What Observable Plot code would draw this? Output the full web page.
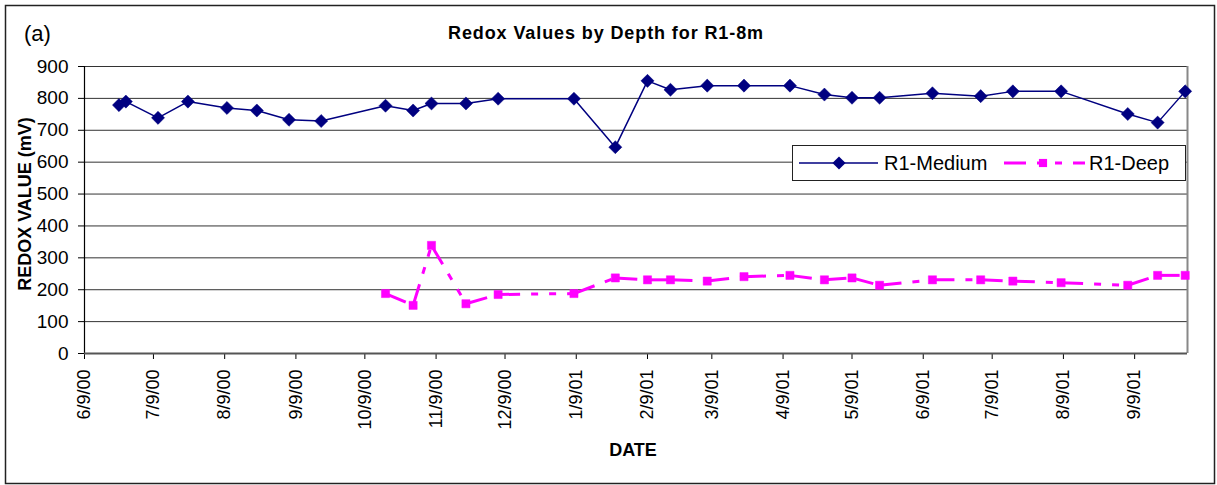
<!DOCTYPE html>
<html><head><meta charset="utf-8">
<script src="https://cdn.jsdelivr.net/npm/d3@7"></script>
<script src="https://cdn.jsdelivr.net/npm/@observablehq/plot@0.6"></script>
<style>
body{margin:0;background:#fff;font-family:"Liberation Sans",Arial,sans-serif}
#chart{position:relative;width:1217px;height:485px}
</style>
</head><body><div id="chart"></div>
<script>
// ---- data ----
const mediumDates = ["2000-06-24","2000-06-27","2000-07-11","2000-07-24","2000-08-10","2000-08-23","2000-09-06","2000-09-20","2000-10-18","2000-10-30","2000-11-07","2000-11-22","2000-12-06","2001-01-08","2001-01-26","2001-02-09","2001-02-19","2001-03-07","2001-03-23","2001-04-12","2001-04-27","2001-05-09","2001-05-21","2001-06-13","2001-07-04","2001-07-18","2001-08-08","2001-09-06","2001-09-19","2001-10-01"];
const mediumValues = [779,790,739,790,770,762,733,729,777,762,784,784,799,799,647,855,827,840,840,840,812,802,802,816,807,822,822,751,724,822];
const deepDates = ["2000-10-18","2000-10-30","2000-11-07","2000-11-22","2000-12-06","2001-01-08","2001-01-26","2001-02-09","2001-02-19","2001-03-07","2001-03-23","2001-04-12","2001-04-27","2001-05-09","2001-05-21","2001-06-13","2001-07-04","2001-07-18","2001-08-08","2001-09-06","2001-09-19","2001-10-01"];
const deepValues = [188,151,339,156,185,188,237,231,231,227,241,245,231,237,214,231,231,227,222,214,245,245];
const seriesNames = ["R1-Medium","R1-Deep"];
const yTicks = [0,100,200,300,400,500,600,700,800,900];
const xTickDates = ["2000-06-09","2000-07-09","2000-08-09","2000-09-09","2000-10-09","2000-11-09","2000-12-09","2001-01-09","2001-02-09","2001-03-09","2001-04-09","2001-05-09","2001-06-09","2001-07-09","2001-08-09","2001-09-09"];
const xDomain = ["2000-06-09","2001-10-02"];
const yDomain = [0,900];
const titleText = "Redox Values by Depth for R1-8m";
const panelText = "(a)";
const xLabel = "DATE";
const yLabel = "REDOX VALUE (mV)";

// ---- build tables ----
const medium = mediumDates.map((d,i)=>({date:new Date(d), value:mediumValues[i]}));
const deep = deepDates.map((d,i)=>({date:new Date(d), value:deepValues[i]}));
const deepSegs = deep.slice(1).map((p,i)=>({x1:deep[i].date,y1:deep[i].value,x2:p.date,y2:p.value}));
const xt = xTickDates.map(d=>new Date(d));
const fmt = d => `${d.getUTCMonth()+1}/${d.getUTCDate()}/${String(d.getUTCFullYear()).slice(2)}`;
const NAVY = "#000080", MAG = "#ff00ff";
const FONT = "Liberation Sans, Arial, sans-serif";

const plot = Plot.plot({
  width: 1217, height: 485,
  marginLeft: 84, marginRight: 30, marginTop: 66, marginBottom: 132,
  style: {fontFamily: FONT, fontSize: "18px", background: "transparent", color: "#000", overflow: "visible"},
  x: {type: "utc", domain: xDomain.map(d=>new Date(d))},
  y: {domain: yDomain},
  marks: [
    Plot.ruleY(yTicks, {stroke: "#333", strokeWidth: 1}),
    Plot.ruleX([new Date(xDomain[1])], {stroke: "#888", strokeWidth: 2}),
    Plot.axisY({ticks: yTicks, tickSize: 6, tickPadding: 10, label: null, fontSize: 19, stroke: "#000"}),
    Plot.axisX({ticks: xt, tickFormat: fmt, tickRotate: -90, tickSize: 6, tickPadding: 10, label: null, fontSize: 18}),
    Plot.ruleX([new Date(xDomain[0])], {stroke: "#000", strokeWidth: 1.2}),
    Plot.ruleY([0], {stroke: "#555", strokeWidth: 2}),
    Plot.line(medium, {x: "date", y: "value", stroke: NAVY, strokeWidth: 1.5}),
    Plot.dot(medium, {x: "date", y: "value", symbol: "diamond2", r: 5.9, fill: NAVY, stroke: NAVY, strokeWidth: 0.5}),
    Plot.link(deepSegs, {x1: "x1", y1: "y1", x2: "x2", y2: "y2", stroke: MAG, strokeWidth: 3, strokeDasharray: "22,11,7,11,7,11", strokeLinecap: "butt"}),
    Plot.dot(deep, {x: "date", y: "value", symbol: "square", r: 4.6, fill: MAG, stroke: MAG, strokeWidth: 0.5})
  ]
});

const svg = d3.select(plot);
// outer border
svg.insert("rect", ":first-child").attr("x",5.5).attr("y",5.5).attr("width",1209).attr("height",478)
  .attr("fill","#fff").attr("stroke","#222").attr("stroke-width",1.5);
// title
svg.append("text").attr("x",606).attr("y",39).attr("text-anchor","middle")
  .attr("font-family",FONT).attr("font-weight","bold").attr("font-size",18).attr("letter-spacing","0.9px")
  .text(titleText);
svg.append("text").attr("x",24).attr("y",41).attr("text-anchor","start").attr("font-family",FONT).attr("font-size",22).text(panelText);
// axis labels
svg.append("text").attr("x",633).attr("y",456).attr("text-anchor","middle")
  .attr("font-family",FONT).attr("font-weight","bold").attr("font-size",18).text(xLabel);
svg.append("text").attr("transform","translate(31,204) rotate(-90)").attr("text-anchor","middle")
  .attr("font-family",FONT).attr("font-weight","bold").attr("font-size",18).text(yLabel);
// legend
const lg = svg.append("g").attr("text-anchor","start");
lg.append("rect").attr("x",792.5).attr("y",145.5).attr("width",393).attr("height",35)
  .attr("fill","#fff").attr("stroke","#222").attr("stroke-width",1);
const ly = 163;
lg.append("line").attr("x1",799).attr("x2",878).attr("y1",ly).attr("y2",ly).attr("stroke",NAVY).attr("stroke-width",1.5);
lg.append("path").attr("transform",`translate(839,${ly})`).attr("d",d3.symbol(d3.symbolDiamond2, Math.PI*5.9*5.9)()).attr("fill",NAVY);
lg.append("text").attr("x",884).attr("y",ly+7).attr("font-family",FONT).attr("font-size",20).text(seriesNames[0]);
lg.append("line").attr("x1",1004).attr("x2",1085).attr("y1",ly).attr("y2",ly).attr("stroke",MAG).attr("stroke-width",3).attr("stroke-dasharray","22,11,7,11,7,11");
lg.append("path").attr("transform",`translate(1043,${ly})`).attr("d",d3.symbol(d3.symbolSquare, Math.PI*4.6*4.6)()).attr("fill",MAG);
lg.append("text").attr("x",1089).attr("y",ly+7).attr("font-family",FONT).attr("font-size",20).text(seriesNames[1]);

document.getElementById("chart").appendChild(plot);
</script>
</body></html>
